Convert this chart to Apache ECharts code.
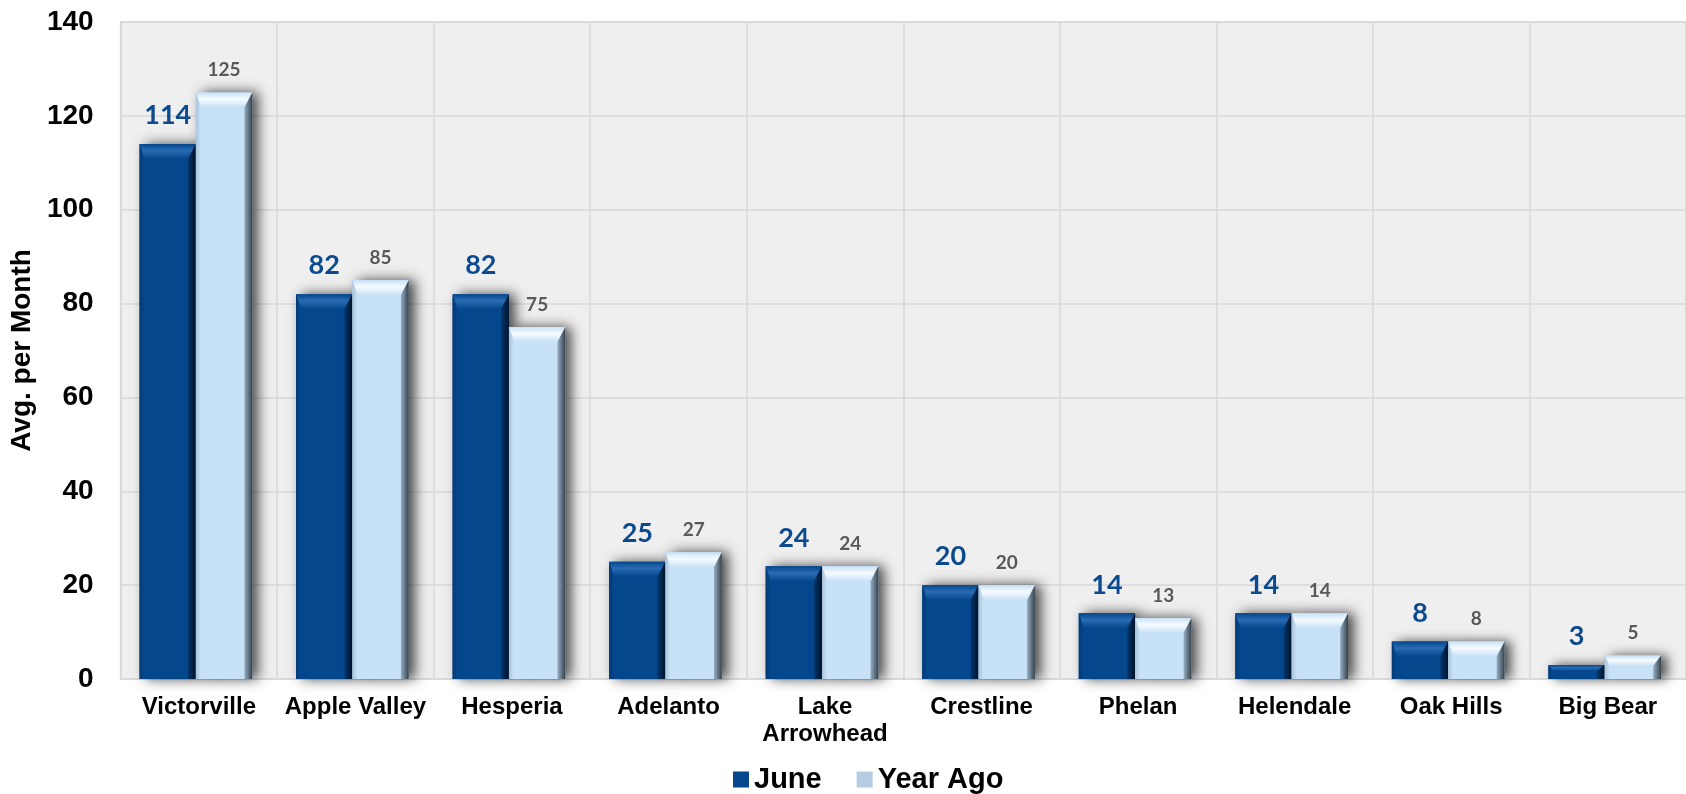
<!DOCTYPE html>
<html><head><meta charset="utf-8">
<script src="https://cdn.jsdelivr.net/npm/echarts@6/dist/echarts.min.js"></script>
<style>html,body{margin:0;padding:0;background:#fff}#c{width:1686px;height:794px}</style>
</head><body><div id="c"></div>
<script>
const categories = ['Victorville','Apple Valley','Hesperia','Adelanto','Lake\nArrowhead','Crestline','Phelan','Helendale','Oak Hills','Big Bear'];
const juneValues = [114, 82, 82, 25, 24, 20, 14, 14, 8, 3];
const yearAgoValues = [125, 85, 75, 27, 24, 20, 13, 14, 8, 5];
const yTicks = [0, 20, 40, 60, 80, 100, 120, 140];

const palettes = [
  {main: '#04478d', topLight: '#2a6cb3', left: '#033a75', rightA: '#03366c', rightB: '#00152e',
   label: {font: 'bold 27px Lato, "Liberation Sans", sans-serif', fill: '#0b4a8f', gap: 15}},
  {main: '#c7e1f7', topLight: '#f6fbff', left: '#a9c3da', rightA: '#98afc4', rightB: '#34414d',
   label: {font: 'bold 19px Lato, "Liberation Sans", sans-serif', fill: '#595959', gap: 13}}
];

function makeRender(si) {
  const p = palettes[si];
  return function (params, api) {
    const idx = api.value(0), val = api.value(1);
    const base = api.coord([idx, 0]);
    const top = api.coord([idx, val]);
    const cw = api.size([1, 0])[0];
    const w = cw * 0.36;
    const cx = base[0] - 3 + (si === 0 ? -w / 2 : w / 2);
    const x0 = cx - w / 2, x1 = cx + w / 2, y0 = top[1], y1 = base[1];
    const h = y1 - y0;
    const t = Math.min(15, h * 0.45);
    const sl = Math.min(5, w * 0.1), sr = Math.min(8, w * 0.14);
    const children = [
      {type: 'rect', shape: {x: x0, y: y0, width: w, height: h},
        style: {fill: p.main, shadowBlur: 12, shadowColor: 'rgba(0,0,0,0.7)', shadowOffsetX: 6, shadowOffsetY: 0}},
      {type: 'polygon', shape: {points: [[x0, y0], [x1, y0], [x1 - sr, y0 + t], [x0 + sl, y0 + t]]},
        style: {fill: new echarts.graphic.LinearGradient(0, 0, 0, 1, [{offset: 0, color: p.main}, {offset: 0.45, color: p.topLight}, {offset: 1, color: p.main}])}},
      {type: 'polygon', shape: {points: [[x0, y0], [x0 + sl, y0 + t], [x0 + sl, y1], [x0, y1]]},
        style: {fill: new echarts.graphic.LinearGradient(0, 0, 1, 0, [{offset: 0, color: p.left}, {offset: 1, color: p.main}])}},
      {type: 'polygon', shape: {points: [[x1, y0], [x1, y1], [x1 - sr, y1], [x1 - sr, y0 + t]]},
        style: {fill: new echarts.graphic.LinearGradient(0, 0, 1, 0, [{offset: 0, color: p.rightA}, {offset: 1, color: p.rightB}])}},
      {type: 'text', style: {text: String(val), x: cx, y: y0 - p.label.gap, align: 'center', verticalAlign: 'bottom',
        font: p.label.font, fill: p.label.fill}}
    ];
    return {type: 'group', children};
  };
}

const chart = echarts.init(document.getElementById('c'));
chart.setOption({
  animation: false,
  grid: {left: 117, right: -6, top: 22, bottom: 115, show: true, backgroundColor: '#efefef', borderColor: '#d9d9d9', borderWidth: 1.5},
  legend: {
    top: 760, left: 728, itemWidth: 16, itemHeight: 16, itemGap: 35,
    textStyle: {fontFamily: 'Liberation Sans, Arial', fontWeight: 'bold', fontSize: 29, color: '#000'},
    data: [{name: 'June', icon: 'rect'}, {name: 'Year Ago', icon: 'rect'}]
  },
  xAxis: {
    type: 'category', data: categories,
    axisLine: {show: true, lineStyle: {color: '#d9d9d9', width: 2}},
    axisTick: {show: false},
    splitLine: {show: true, lineStyle: {color: '#d9d9d9', width: 1.5}},
    axisLabel: {fontFamily: 'Liberation Sans, Arial', fontWeight: 'bold', fontSize: 24, color: '#000', margin: 15, lineHeight: 27, interval: 0}
  },
  yAxis: {
    type: 'value', min: 0, max: 140, interval: 20,
    name: 'Avg. per Month', nameLocation: 'middle', nameGap: 75, nameRotate: 90,
    nameTextStyle: {fontFamily: 'Liberation Sans, Arial', fontWeight: 'bold', fontSize: 28, color: '#000'},
    axisLine: {show: true, lineStyle: {color: '#d9d9d9', width: 1.5}},
    axisTick: {show: false},
    splitLine: {show: true, lineStyle: {color: '#d9d9d9', width: 1.5}},
    axisLabel: {fontFamily: 'Liberation Sans, Arial', fontWeight: 'bold', fontSize: 28, color: '#000', margin: 27,
      formatter: v => yTicks.includes(v) ? String(v) : ''}
  },
  series: [
    {name: 'June', type: 'custom', renderItem: makeRender(0), encode: {x: 0, y: 1},
      itemStyle: {color: '#04478d'}, data: juneValues.map((v, i) => [i, v]), z: 2},
    {name: 'Year Ago', type: 'custom', renderItem: makeRender(1), encode: {x: 0, y: 1},
      itemStyle: {color: '#b4cde3'}, data: yearAgoValues.map((v, i) => [i, v]), z: 3}
  ]
});
</script></body></html>
